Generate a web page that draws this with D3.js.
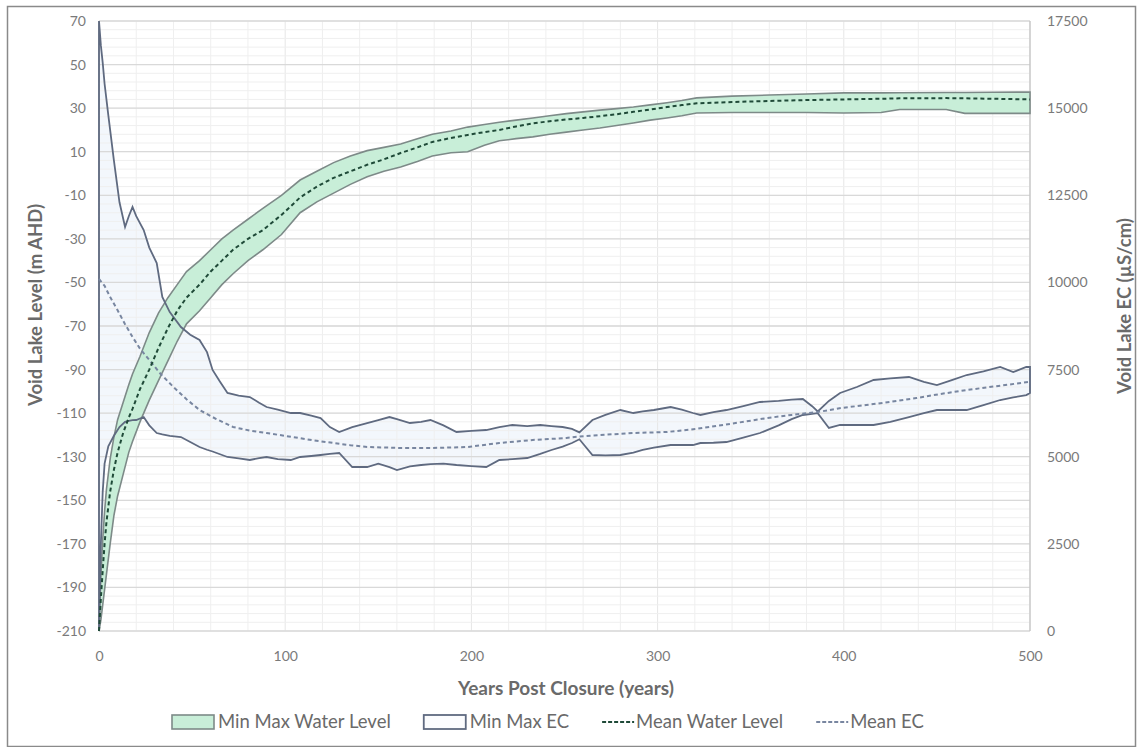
<!DOCTYPE html>
<html>
<head>
<meta charset="utf-8">
<script src="https://cdn.jsdelivr.net/npm/d3@7"></script>
<style>
  body { margin: 0; background: #fff; }
  text { font-family: Lato, "Open Sans", sans-serif; fill: #6a6a6a; }
</style>
</head>
<body>
<div id="chart"></div>
<script>
// water level (m AHD)
var wlYears = [0, 1, 2, 3, 4, 6, 8, 10, 13, 16, 18, 22, 27, 32, 37, 42, 47, 54, 60, 66, 72, 80, 88, 98,
  108, 117, 126, 135, 144, 153, 162, 171, 179, 189, 198, 207, 215, 224, 233, 242, 251, 260, 269, 278,
  287, 296, 305, 313, 321, 340, 360, 380, 400, 420, 430, 455, 465, 480, 500]
var wlMean = [-210, -195, -182, -170, -160, -146, -136, -128, -119, -112, -108, -99, -90, -80, -71, -63, -57, -51, -45, -40, -35, -30, -26, -19,
  -11, -6, -2, 1, 4, 6.5, 9.4, 12, 14.5, 16.3, 17.7, 19, 20, 21.6, 23, 24, 24.8, 25.5, 26.3, 27.2,
  28.3, 29.4, 30.5, 31.4, 32.2, 32.8, 33.3, 33.7, 34, 34.3, 34.5, 34.6, 34.5, 34.3, 34]
var wlMax = [-210, -185, -168, -155, -145, -131, -121, -113, -105, -97, -92, -84, -73, -64, -57, -51, -45, -40, -35, -30, -26, -21, -16, -10,
  -3, 1, 5, 8, 10.5, 12, 13.5, 16, 18, 19.5, 21.3, 22.5, 23.5, 24.5, 25.5, 26.5, 27.5, 28.3, 29.1, 29.8,
  30.5, 31.5, 32.5, 33.5, 34.7, 35.5, 36, 36.5, 37, 37, 37.1, 37.2, 37.2, 37.3, 37.4]
var wlMin = [-210, -205, -198, -191, -184, -170, -157, -148, -138, -128, -123, -114, -104, -95, -86, -77, -69, -63, -57, -51, -46, -40, -35, -28,
  -18, -13, -9, -5, -1.5, 1, 3, 5.5, 8, 9.5, 10, 13, 15, 16, 16.8, 18, 19, 20, 20.9, 22,
  23.2, 24.5, 25.5, 26.5, 27.8, 28, 28, 28, 27.8, 28, 29.4, 29.4, 27.6, 27.6, 27.6]

// electrical conductivity (uS/cm)
var ecYears = [0, 1, 2, 3, 5, 8, 11, 14, 16, 18, 20, 24, 27, 31, 34, 38, 44, 49, 54, 58, 61, 65, 69, 75, 81, 86, 90, 96,
  103, 108, 114, 119, 124, 129, 136, 144, 150, 156, 160, 167, 173, 178, 185, 192, 200, 208, 215, 222, 230, 237, 243,
  249, 254, 258, 265, 272, 280, 287, 292, 298, 307, 313, 319, 323, 330, 337, 346, 355, 365, 372, 378, 383, 386, 392,
  398, 407, 416, 425, 435, 443, 450, 458, 466, 475, 484, 491, 498, 500]
var ecMax = [17500, 16800, 16300, 15700, 14800, 13500, 12300, 11590, 11900, 12164, 11900, 11504, 11000, 10557, 9582, 9150, 8721, 8500, 8348, 8000, 7488, 7150, 6828, 6750, 6713, 6550, 6426, 6350,
  6254, 6254, 6180, 6110, 5850, 5709, 5850, 5967, 6050, 6139, 6080, 5967, 6000, 6053, 5900, 5709, 5740, 5766, 5850, 5910, 5880, 5910, 5880,
  5852, 5800, 5700, 6053, 6200, 6340, 6254, 6300, 6340, 6426, 6350, 6254, 6197, 6280, 6340, 6450, 6570, 6600, 6640, 6656, 6450, 6300, 6600,
  6828, 7000, 7201, 7250, 7287, 7150, 7057, 7200, 7344, 7450, 7574, 7430, 7574, 7574]
var ecMin = [0, 2500, 4000, 4800, 5300, 5600, 5850, 6000, 6030, 6050, 6053, 6139, 5900, 5680, 5640, 5600, 5565, 5420, 5279, 5200, 5150, 5070, 4992, 4950, 4906, 4960, 4992, 4930,
  4906, 4992, 5020, 5049, 5080, 5107, 4705, 4705, 4800, 4700, 4619, 4720, 4762, 4790, 4800, 4762, 4730, 4705, 4906, 4930, 4963, 5080, 5193,
  5290, 5393, 5500, 5049, 5040, 5049, 5120, 5193, 5260, 5336, 5336, 5336, 5393, 5400, 5422, 5550, 5680, 5900, 6080, 6197, 6230, 6250, 5824,
  5910, 5910, 5910, 6000, 6139, 6250, 6340, 6340, 6340, 6480, 6627, 6700, 6770, 6828]
var ecMeanYears = [0, 3, 6, 10, 14, 18, 22, 27, 33, 40, 47, 54, 63, 72, 81, 90, 104, 115, 126, 135, 144, 162, 179, 198,
  215, 233, 251, 258, 269, 287, 305, 321, 340, 359, 372, 386, 399, 412, 426, 439, 452, 466, 483, 500]
var ecMean = [10100, 9900, 9582, 9200, 8800, 8434, 8100, 7775, 7380, 7000, 6650, 6340, 6080, 5852, 5750, 5680, 5565, 5470, 5393, 5330, 5279, 5250, 5250, 5279,
  5393, 5480, 5537, 5580, 5623, 5680, 5709, 5800, 5950, 6110, 6200, 6282, 6400, 6484, 6580, 6684, 6800, 6914, 7030, 7150]

var leftTicks = d3.range(-210, 71, 20)
var rightTicks = d3.range(0, 17501, 2500)
var xTicks = [0, 100, 200, 300, 400, 500]
var legendItems = ["Min Max Water Level", "Min Max EC", "Mean Water Level", "Mean EC"]

var W = 1137, H = 747
var plot = {left: 99, right: 1030, top: 21, bottom: 631}

var svg = d3.select("#chart").append("svg")
  .attr("width", W)
  .attr("height", H)

svg.append("rect").attr("width", W).attr("height", H).attr("fill", "#fff")
svg.append("rect")
  .attr("x", 7.5).attr("y", 6.5).attr("width", 1128).attr("height", 740)
  .attr("fill", "none").attr("stroke", "#8a8a8a").attr("stroke-width", 1.5)

var x = d3.scaleLinear().domain([0, 500]).range([plot.left, plot.right])
var yL = d3.scaleLinear().domain([-210, 70]).range([plot.bottom, plot.top])
var yR = d3.scaleLinear().domain([0, 17500]).range([plot.bottom, plot.top])

var wl = wlYears.map((t, i) => ({t: t, min: wlMin[i], max: wlMax[i], mean: wlMean[i]}))
var ec = ecYears.map((t, i) => ({t: t, min: ecMin[i], max: ecMax[i]}))
var ecM = ecMeanYears.map((t, i) => ({t: t, v: ecMean[i]}))

var ecArea = d3.area().x(d => x(d.t)).y0(d => yR(d.min)).y1(d => yR(d.max))
var wlArea = d3.area().x(d => x(d.t)).y0(d => yL(d.min)).y1(d => yL(d.max))

// EC band fill, very light, under the grid
svg.append("path").datum(ec).attr("d", ecArea).attr("fill", "#f3f7fc")

// gridlines
var grid = svg.append("g")
grid.selectAll("line.vminor").data(d3.range(0, 501, 20)).enter().append("line")
  .attr("x1", d => x(d)).attr("x2", d => x(d))
  .attr("y1", plot.top).attr("y2", plot.bottom)
  .attr("stroke", d => d % 100 == 0 ? "#e6e6e6" : "#efefef").attr("stroke-width", 1)
grid.selectAll("line.hminor").data(d3.range(-210, 70.1, 4)).enter().append("line")
  .attr("x1", plot.left).attr("x2", plot.right)
  .attr("y1", d => yL(d)).attr("y2", d => yL(d))
  .attr("stroke", "#efefef").attr("stroke-width", 1)
grid.selectAll("line.hmajor").data(leftTicks).enter().append("line")
  .attr("x1", plot.left).attr("x2", plot.right)
  .attr("y1", d => yL(d)).attr("y2", d => yL(d))
  .attr("stroke", "#d9d9d9").attr("stroke-width", 1.3)
grid.append("line")
  .attr("x1", plot.right).attr("x2", plot.right).attr("y1", plot.top).attr("y2", plot.bottom)
  .attr("stroke", "#c4c4c4").attr("stroke-width", 1.3)
grid.append("line")
  .attr("x1", plot.left).attr("x2", plot.left).attr("y1", plot.top).attr("y2", plot.bottom)
  .attr("stroke", "#c4c4c4").attr("stroke-width", 1.3)

// water level band
svg.append("path").datum(wl).attr("d", wlArea)
  .attr("fill", "#c8eed8").attr("stroke", "#7d8a88").attr("stroke-width", 1.6)

// EC band outline drawn on top
svg.append("path").datum(ec).attr("d", ecArea)
  .attr("fill", "none").attr("stroke", "#5f6a80").attr("stroke-width", 1.8)

svg.append("path").datum(ecM)
  .attr("d", d3.line().x(d => x(d.t)).y(d => yR(d.v)))
  .attr("fill", "none").attr("stroke", "#7886a0").attr("stroke-width", 2)
  .attr("stroke-dasharray", "4,3")

svg.append("path").datum(wl)
  .attr("d", d3.line().x(d => x(d.t)).y(d => yL(d.mean)))
  .attr("fill", "none").attr("stroke", "#1f4a38").attr("stroke-width", 2)
  .attr("stroke-dasharray", "4,3")

// axes
var fmt = d => String(d)
var axL = svg.append("g").attr("transform", "translate(" + plot.left + ",0)")
  .call(d3.axisLeft(yL).tickValues(leftTicks).tickFormat(fmt).tickSize(0).tickPadding(13))
var axR = svg.append("g").attr("transform", "translate(" + plot.right + ",0)")
  .call(d3.axisRight(yR).tickValues(rightTicks).tickFormat(fmt).tickSize(0).tickPadding(17))
var axB = svg.append("g").attr("transform", "translate(0," + plot.bottom + ")")
  .call(d3.axisBottom(x).tickValues(xTicks).tickFormat(fmt).tickSize(0).tickPadding(20))
;[axL, axR, axB].forEach(function(a) {
  a.select(".domain").remove()
  a.selectAll("text").style("font-size", "14px").style("fill", "#7a7a7a")
})

svg.append("text")
  .attr("transform", "translate(36,305) rotate(-90)")
  .attr("text-anchor", "middle").attr("dy", "0.35em")
  .style("font-size", "18.5px").style("font-weight", "bold")
  .text("Void Lake Level (m AHD)")
svg.append("text")
  .attr("transform", "translate(1125,306) rotate(-90)")
  .attr("text-anchor", "middle").attr("dy", "0.35em")
  .style("font-size", "18.5px").style("font-weight", "bold")
  .text("Void Lake EC (µS/cm)")
svg.append("text")
  .attr("x", 566).attr("y", 688)
  .attr("text-anchor", "middle").attr("dy", "0.35em")
  .style("font-size", "19px").style("font-weight", "bold")
  .text("Years Post Closure (years)")

// legend
var lg = svg.append("g")
var lx = 172, ly = 722
legendItems.forEach(function(name, i) {
  if (i == 0) {
    lg.append("rect").attr("x", lx).attr("y", ly - 7).attr("width", 42).attr("height", 14)
      .attr("fill", "#c8eed8").attr("stroke", "#7d8a88").attr("stroke-width", 1.6)
  } else if (i == 1) {
    lg.append("rect").attr("x", lx).attr("y", ly - 7).attr("width", 42).attr("height", 14)
      .attr("fill", "#fbfcfe").attr("stroke", "#5f6a80").attr("stroke-width", 1.8)
  } else {
    lg.append("line").attr("x1", lx).attr("x2", lx + 32).attr("y1", ly).attr("y2", ly)
      .attr("stroke", i == 2 ? "#1f4a38" : "#7886a0").attr("stroke-width", 2)
      .attr("stroke-dasharray", "4,2")
  }
  var sw = i < 2 ? 46 : 34
  var t = lg.append("text").attr("x", lx + sw).attr("y", ly).attr("dy", "0.35em")
    .style("font-size", "18.5px").style("fill", "#6a6a6a").text(name)
  lx += sw + t.node().getComputedTextLength() + 33
})
</script>
</body>
</html>
